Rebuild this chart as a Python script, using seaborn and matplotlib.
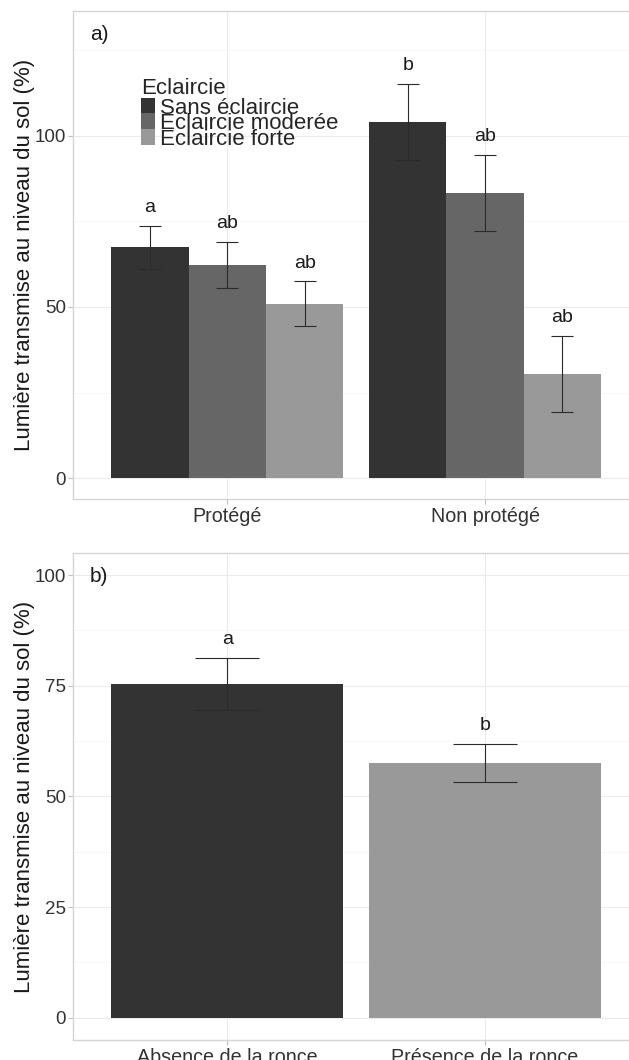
import numpy as np
import pandas as pd
import matplotlib
matplotlib.use("Agg")
import matplotlib.pyplot as plt
from matplotlib.ticker import FixedLocator
from matplotlib.container import BarContainer
import seaborn as sns

# ---------------- data ----------------
protection = ["Protégé", "Non protégé"]
eclaircie = ["Sans éclaircie", "Eclaircie moderée", "Eclaircie forte"]
light_prot = [67.4, 62.3, 51.0]
light_nonprot = [104.2, 83.4, 30.5]
se_prot = [6.4, 6.8, 6.45]
se_nonprot = [11.1, 11.15, 11.15]
letters_prot = ["a", "ab", "ab"]
letters_nonprot = ["b", "ab", "ab"]

ronce = ["Absence de la ronce", "Présence de la ronce"]
light_ronce = [75.4, 57.6]
se_ronce = [5.85, 4.35]
letters_ronce = ["a", "b"]

yticks_a = [0, 50, 100]
yminor_a = [25, 75, 125]
yticks_b = [0, 25, 50, 75, 100]
yminor_b = [12.5, 37.5, 62.5, 87.5]

ylabel = "Lumière transmise au niveau du sol (%)"
greys3 = ["#333333", "#666666", "#999999"]
greys2 = ["#333333", "#999999"]

# ---------------- style ----------------
sns.set_theme(style="white")
plt.rcParams["font.family"] = ["Liberation Sans", "DejaVu Sans"]

fig = plt.figure(figsize=(6.29, 10.6), dpi=100)
ax1 = fig.add_axes([0.1156, 0.5292, 0.9013, 0.4604])
ax2 = fig.add_axes([0.1156, 0.0189, 0.9013, 0.4594])

df_a = pd.DataFrame({
    "Protection": np.repeat(protection, len(eclaircie)),
    "Eclaircie": eclaircie * len(protection),
    "Lumiere": light_prot + light_nonprot,
    "se": se_prot + se_nonprot,
    "lettre": letters_prot + letters_nonprot,
})
df_b = pd.DataFrame({
    "Ronce": ronce,
    "Lumiere": light_ronce,
    "se": se_ronce,
    "lettre": letters_ronce,
})

sns.barplot(data=df_a, x="Protection", y="Lumiere", hue="Eclaircie",
            order=protection, hue_order=eclaircie, palette=greys3,
            width=0.9, errorbar=None, saturation=1, linewidth=0, ax=ax1)
sns.barplot(data=df_b, x="Ronce", y="Lumiere", hue="Ronce",
            order=ronce, hue_order=ronce, palette=greys2, legend=False,
            width=0.9, errorbar=None, saturation=1, linewidth=0, ax=ax2)

err_kw = dict(fmt="none", ecolor="#2b2b2b", elinewidth=0.8, capthick=0.8, zorder=3)
txt_kw = dict(textcoords="offset points", xytext=(0, 10), ha="center",
              va="baseline", fontsize=14, color="#1a1a1a")

# panel a error bars + letters
bars_a = [c for c in ax1.containers if isinstance(c, BarContainer)]
for cont, hue in zip(bars_a, eclaircie):
    for bar in cont:
        xc = bar.get_x() + bar.get_width() / 2
        cat = protection[int(round(xc))]
        row = df_a[(df_a.Protection == cat) & (df_a.Eclaircie == hue)].iloc[0]
        ax1.errorbar(xc, row.Lumiere, yerr=row.se, capsize=7.9, **err_kw)
        ax1.annotate(row.lettre, (xc, row.Lumiere + row.se), **txt_kw)

# panel b error bars + letters
bars_b = [c for c in ax2.containers if isinstance(c, BarContainer)]
for cont in bars_b:
    for bar in cont:
        if bar is None or bar.get_height() == 0:
            continue
        xc = bar.get_x() + bar.get_width() / 2
        row = df_b[df_b.Ronce == ronce[int(round(xc))]].iloc[0]
        ax2.errorbar(xc, row.Lumiere, yerr=row.se, capsize=23, **err_kw)
        ax2.annotate(row.lettre, (xc, row.Lumiere + row.se), **txt_kw)

for ax, yt, ym, yl, tag in [(ax1, yticks_a, yminor_a, (-6.14, 136.5), "a)"),
                            (ax2, yticks_b, yminor_b, (-5, 105), "b)")]:
    ax.set_xlim(-0.6, 1.6)
    ax.set_ylim(*yl)
    ax.set_yticks(yt)
    ax.set_yticklabels([str(v) for v in yt])
    ax.yaxis.set_minor_locator(FixedLocator(ym))
    ax.set_axisbelow(True)
    ax.grid(which="major", axis="both", color="#EBEBEB", lw=0.8)
    ax.grid(which="minor", axis="y", color="#F5F5F5", lw=0.5)
    ax.tick_params(axis="y", which="major", labelsize=13.5, pad=1.5)
    ax.tick_params(axis="x", which="major", labelsize=14.2, pad=2)
    ax.tick_params(axis="both", which="major", length=3.5, width=0.8,
                   color="#BFBFBF", labelcolor="#333333",
                   bottom=True, left=True)
    ax.tick_params(which="minor", length=0)
    for sp in ax.spines.values():
        sp.set_visible(True)
        sp.set_color("#D6D6D6")
        sp.set_linewidth(1.0)
    ax.set_xlabel("")
    ax.set_ylabel(ylabel, fontsize=16, color="#1a1a1a")
    ax.yaxis.set_label_coords(-0.066, 0.5)
    ax.text(0.0305, 0.951, tag, transform=ax.transAxes, fontsize=15,
            ha="left", va="center", color="#1a1a1a")

h, l = ax1.get_legend_handles_labels()
leg = ax1.legend(h, l, title="Eclaircie", loc="upper left",
                 bbox_to_anchor=(0.1205, 0.863), frameon=False,
                 fontsize=16, title_fontsize=16, handlelength=0.64,
                 handleheight=0.71, labelspacing=-0.25, handletextpad=0.2,
                 borderpad=0, borderaxespad=0, alignment="left")
leg._legend_box.sep = -0.9

fig.savefig("out.png", dpi=100)
